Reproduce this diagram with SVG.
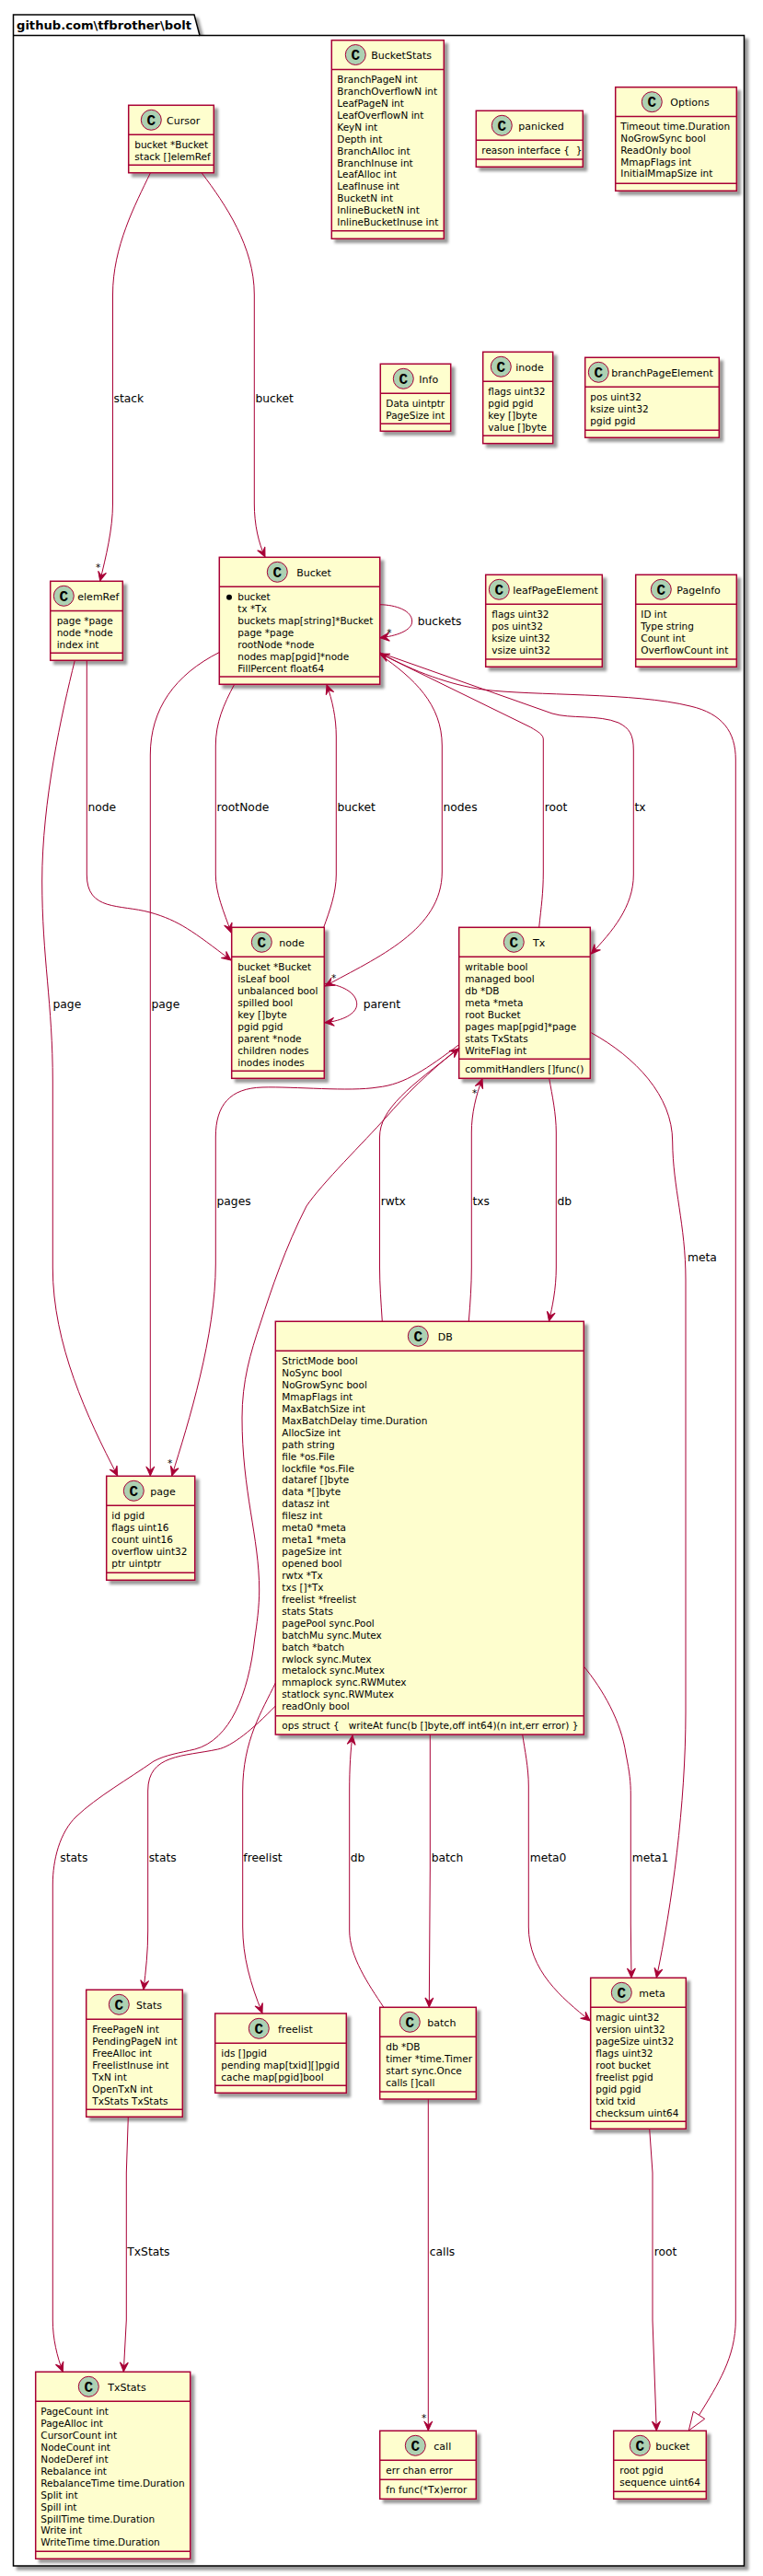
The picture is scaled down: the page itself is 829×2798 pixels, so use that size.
<svg xmlns="http://www.w3.org/2000/svg" width="829" height="2798" viewBox="0 0 829 2798">
<style>
text{font-family:"DejaVu Sans","Liberation Sans",sans-serif;fill:#000}
.a{font-size:10.5px}
.t{font-size:11px}
.e{font-size:12.3px}
.s{font-size:10.5px}
.g{font-family:"Liberation Mono",monospace;font-weight:bold;font-size:16px;text-anchor:middle}
.p{font-size:13px;font-weight:bold}
.b{fill:#FEFECE;stroke:#A80036;stroke-width:1.5;filter:url(#sh)}
.d{stroke:#A80036;stroke-width:1.5;fill:none}
.c{fill:#ADD1B2;stroke:#A80036;stroke-width:1}
.k{fill:none;stroke:#A80036;stroke-width:1}
</style>
<defs>
<filter id="sh" x="-20%" y="-20%" width="140%" height="140%"><feDropShadow dx="4" dy="4" stdDeviation="1.7" flood-color="#000" flood-opacity="0.4"/></filter>
<marker id="ar" markerUnits="userSpaceOnUse" markerWidth="14" markerHeight="12" refX="12" refY="6" orient="auto"><polygon points="12,6 2,1.5 6,6 2,10.5" fill="#A80036" stroke="#A80036"/></marker>
</defs>
<rect width="829" height="2798" fill="#fff"/>
<g id="package">
<path d="M14.5,2787 V16 H211 L217,38.5 H798 V38.5 H808.5 V2787 Z" fill="#fff" stroke="#000" stroke-width="1.5" filter="url(#sh)"/>
<path d="M14.5,38.5 H217" fill="none" stroke="#000" stroke-width="1.5"/>
<text class="p" x="18" y="32" textLength="190" lengthAdjust="spacingAndGlyphs">github.com\tfbrother\bolt</text>
</g>
<g id="node-Cursor">
<rect class="b" x="139.7" y="114.3" width="92.6" height="73.4"/>
<path class="d" d="M139.7,146.3H232.3M139.7,179.3H232.3"/>
<circle class="c" cx="164.3" cy="130.3" r="11"/><text class="g" x="164.3" y="135.6">C</text>
<text class="t" x="181" y="134.5">Cursor</text>
<text class="a" x="146.3" y="160.7">bucket *Bucket</text>
<text class="a" x="146.3" y="173.7">stack []elemRef</text>
</g>
<g id="node-BucketStats">
<rect class="b" x="360.3" y="43.7" width="122" height="215.6"/>
<path class="d" d="M360.3,75.5H482.3M360.3,250.7H482.3"/>
<circle class="c" cx="386.3" cy="59.5" r="11"/><text class="g" x="386.3" y="64.8">C</text>
<text class="t" x="403.3" y="63.7">BucketStats</text>
<text class="a" x="366.3" y="90">BranchPageN int</text>
<text class="a" x="366.3" y="102.9">BranchOverflowN int</text>
<text class="a" x="366.3" y="115.9">LeafPageN int</text>
<text class="a" x="366.3" y="128.8">LeafOverflowN int</text>
<text class="a" x="366.3" y="141.7">KeyN int</text>
<text class="a" x="366.3" y="154.7">Depth int</text>
<text class="a" x="366.3" y="167.6">BranchAlloc int</text>
<text class="a" x="366.3" y="180.5">BranchInuse int</text>
<text class="a" x="366.3" y="193.4">LeafAlloc int</text>
<text class="a" x="366.3" y="206.4">LeafInuse int</text>
<text class="a" x="366.3" y="219.3">BucketN int</text>
<text class="a" x="366.3" y="232.2">InlineBucketN int</text>
<text class="a" x="366.3" y="245.2">InlineBucketInuse int</text>
</g>
<g id="node-panicked">
<rect class="b" x="517.3" y="120.3" width="116" height="61"/>
<path class="d" d="M517.3,152.3H633.3M517.3,173H633.3"/>
<circle class="c" cx="545.3" cy="136.3" r="11"/><text class="g" x="545.3" y="141.6">C</text>
<text class="t" x="563.3" y="140.5">panicked</text>
<text class="a" x="523.3" y="166.7" xml:space="preserve">reason interface {  }</text>
</g>
<g id="node-Options">
<rect class="b" x="668.7" y="94.7" width="131.6" height="112.6"/>
<path class="d" d="M668.7,126.5H800.3M668.7,199.3H800.3"/>
<circle class="c" cx="708.3" cy="110.7" r="11"/><text class="g" x="708.3" y="116">C</text>
<text class="t" x="728.3" y="114.9">Options</text>
<text class="a" x="674.3" y="140.7">Timeout time.Duration</text>
<text class="a" x="674.3" y="153.6">NoGrowSync bool</text>
<text class="a" x="674.3" y="166.6">ReadOnly bool</text>
<text class="a" x="674.3" y="179.5">MmapFlags int</text>
<text class="a" x="674.3" y="192.4">InitialMmapSize int</text>
</g>
<g id="node-Info">
<rect class="b" x="413.3" y="395.3" width="76.4" height="73"/>
<path class="d" d="M413.3,427.3H489.7M413.3,460.3H489.7"/>
<circle class="c" cx="438.3" cy="411.3" r="11"/><text class="g" x="438.3" y="416.6">C</text>
<text class="t" x="455.3" y="415.5">Info</text>
<text class="a" x="419.3" y="441.7">Data uintptr</text>
<text class="a" x="419.3" y="454.7">PageSize int</text>
</g>
<g id="node-inode">
<rect class="b" x="524.7" y="382.3" width="76" height="99.4"/>
<path class="d" d="M524.7,414.3H600.7M524.7,473.3H600.7"/>
<circle class="c" cx="544.3" cy="398.3" r="11"/><text class="g" x="544.3" y="403.6">C</text>
<text class="t" x="560.3" y="402.5">inode</text>
<text class="a" x="530.3" y="428.7">flags uint32</text>
<text class="a" x="530.3" y="441.7">pgid pgid</text>
<text class="a" x="530.3" y="454.7">key []byte</text>
<text class="a" x="530.3" y="467.7">value []byte</text>
</g>
<g id="node-branchPageElement">
<rect class="b" x="635.7" y="388.3" width="145.6" height="87"/>
<path class="d" d="M635.7,420.3H781.3M635.7,467.3H781.3"/>
<circle class="c" cx="650.3" cy="404.3" r="11"/><text class="g" x="650.3" y="409.6">C</text>
<text class="t" x="664.3" y="408.5">branchPageElement</text>
<text class="a" x="641.3" y="435">pos uint32</text>
<text class="a" x="641.3" y="448">ksize uint32</text>
<text class="a" x="641.3" y="461">pgid pgid</text>
</g>
<g id="node-elemRef">
<rect class="b" x="54.7" y="631.3" width="78.6" height="86"/>
<path class="d" d="M54.7,663.5H133.3M54.7,709.3H133.3"/>
<circle class="c" cx="69.3" cy="647.3" r="11"/><text class="g" x="69.3" y="652.6">C</text>
<text class="t" x="84.3" y="651.5">elemRef</text>
<text class="a" x="61.7" y="678.3">page *page</text>
<text class="a" x="61.7" y="691.2">node *node</text>
<text class="a" x="61.7" y="704.2">index int</text>
</g>
<g id="node-Bucket">
<rect class="b" x="238.3" y="605.3" width="174.4" height="138"/>
<path class="d" d="M238.3,637.3H412.7M238.3,735H412.7"/>
<circle class="c" cx="301.3" cy="621.3" r="11"/><text class="g" x="301.3" y="626.6">C</text>
<text class="t" x="322.3" y="625.5">Bucket</text>
<circle cx="249" cy="648.7" r="3" fill="#000"/>
<text class="a" x="258.3" y="652">bucket</text>
<text class="a" x="258.3" y="664.9">tx *Tx</text>
<text class="a" x="258.3" y="677.9">buckets map[string]*Bucket</text>
<text class="a" x="258.3" y="690.8">page *page</text>
<text class="a" x="258.3" y="703.7">rootNode *node</text>
<text class="a" x="258.3" y="716.7">nodes map[pgid]*node</text>
<text class="a" x="258.3" y="729.6">FillPercent float64</text>
</g>
<g id="node-leafPageElement">
<rect class="b" x="527.7" y="624.3" width="126.6" height="100"/>
<path class="d" d="M527.7,656.3H654.3M527.7,716H654.3"/>
<circle class="c" cx="542.3" cy="640.3" r="11"/><text class="g" x="542.3" y="645.6">C</text>
<text class="t" x="557.3" y="644.5">leafPageElement</text>
<text class="a" x="534.3" y="670.7">flags uint32</text>
<text class="a" x="534.3" y="683.7">pos uint32</text>
<text class="a" x="534.3" y="696.7">ksize uint32</text>
<text class="a" x="534.3" y="709.7">vsize uint32</text>
</g>
<g id="node-PageInfo">
<rect class="b" x="690.7" y="624.3" width="109.6" height="100"/>
<path class="d" d="M690.7,656.3H800.3M690.7,716H800.3"/>
<circle class="c" cx="718.3" cy="640.3" r="11"/><text class="g" x="718.3" y="645.6">C</text>
<text class="t" x="735.3" y="644.5">PageInfo</text>
<text class="a" x="696.3" y="670.7">ID int</text>
<text class="a" x="696.3" y="683.7">Type string</text>
<text class="a" x="696.3" y="696.7">Count int</text>
<text class="a" x="696.3" y="709.7">OverflowCount int</text>
</g>
<g id="node-node">
<rect class="b" x="251.7" y="1007.3" width="100.6" height="164"/>
<path class="d" d="M251.7,1039.3H352.3M251.7,1163.3H352.3"/>
<circle class="c" cx="284.3" cy="1023.3" r="11"/><text class="g" x="284.3" y="1028.6">C</text>
<text class="t" x="303.3" y="1027.5">node</text>
<text class="a" x="258.3" y="1054">bucket *Bucket</text>
<text class="a" x="258.3" y="1067">isLeaf bool</text>
<text class="a" x="258.3" y="1080">unbalanced bool</text>
<text class="a" x="258.3" y="1093">spilled bool</text>
<text class="a" x="258.3" y="1105.8">key []byte</text>
<text class="a" x="258.3" y="1118.8">pgid pgid</text>
<text class="a" x="258.3" y="1131.7">parent *node</text>
<text class="a" x="258.3" y="1144.6">children nodes</text>
<text class="a" x="258.3" y="1157.6">inodes inodes</text>
</g>
<g id="node-Tx">
<rect class="b" x="498.7" y="1007.3" width="142.6" height="164"/>
<path class="d" d="M498.7,1039.3H641.3M498.7,1150.3H641.3"/>
<circle class="c" cx="558.3" cy="1023.3" r="11"/><text class="g" x="558.3" y="1028.6">C</text>
<text class="t" x="579" y="1027.5">Tx</text>
<text class="a" x="505.3" y="1054">writable bool</text>
<text class="a" x="505.3" y="1067">managed bool</text>
<text class="a" x="505.3" y="1080">db *DB</text>
<text class="a" x="505.3" y="1093">meta *meta</text>
<text class="a" x="505.3" y="1105.8">root Bucket</text>
<text class="a" x="505.3" y="1118.8">pages map[pgid]*page</text>
<text class="a" x="505.3" y="1131.7">stats TxStats</text>
<text class="a" x="505.3" y="1144.6">WriteFlag int</text>
<text class="a" x="505.3" y="1165">commitHandlers []func()</text>
</g>
<g id="node-page">
<rect class="b" x="115.7" y="1603.3" width="96" height="113"/>
<path class="d" d="M115.7,1635.3H211.7M115.7,1708.3H211.7"/>
<circle class="c" cx="145.3" cy="1619.3" r="11"/><text class="g" x="145.3" y="1624.6">C</text>
<text class="t" x="163.3" y="1623.5">page</text>
<text class="a" x="121.3" y="1650">id pgid</text>
<text class="a" x="121.3" y="1663">flags uint16</text>
<text class="a" x="121.3" y="1676">count uint16</text>
<text class="a" x="121.3" y="1689">overflow uint32</text>
<text class="a" x="121.3" y="1702">ptr uintptr</text>
</g>
<g id="node-DB">
<rect class="b" x="299.3" y="1435.3" width="335" height="448.7"/>
<path class="d" d="M299.3,1467.3H634.3M299.3,1863.7H634.3"/>
<circle class="c" cx="454.3" cy="1451.3" r="11"/><text class="g" x="454.3" y="1456.6">C</text>
<text class="t" x="475.7" y="1455.5">DB</text>
<text class="a" x="306.3" y="1482">StrictMode bool</text>
<text class="a" x="306.3" y="1495">NoSync bool</text>
<text class="a" x="306.3" y="1508">NoGrowSync bool</text>
<text class="a" x="306.3" y="1521">MmapFlags int</text>
<text class="a" x="306.3" y="1533.7">MaxBatchSize int</text>
<text class="a" x="306.3" y="1546.7">MaxBatchDelay time.Duration</text>
<text class="a" x="306.3" y="1559.6">AllocSize int</text>
<text class="a" x="306.3" y="1572.6">path string</text>
<text class="a" x="306.3" y="1585.5">file *os.File</text>
<text class="a" x="306.3" y="1598.5">lockfile *os.File</text>
<text class="a" x="306.3" y="1611.4">dataref []byte</text>
<text class="a" x="306.3" y="1624.4">data *[]byte</text>
<text class="a" x="306.3" y="1637.3">datasz int</text>
<text class="a" x="306.3" y="1650.3">filesz int</text>
<text class="a" x="306.3" y="1663.2">meta0 *meta</text>
<text class="a" x="306.3" y="1676.2">meta1 *meta</text>
<text class="a" x="306.3" y="1689.1">pageSize int</text>
<text class="a" x="306.3" y="1702.1">opened bool</text>
<text class="a" x="306.3" y="1715">rwtx *Tx</text>
<text class="a" x="306.3" y="1728">txs []*Tx</text>
<text class="a" x="306.3" y="1741">freelist *freelist</text>
<text class="a" x="306.3" y="1754">stats Stats</text>
<text class="a" x="306.3" y="1767">pagePool sync.Pool</text>
<text class="a" x="306.3" y="1780">batchMu sync.Mutex</text>
<text class="a" x="306.3" y="1793">batch *batch</text>
<text class="a" x="306.3" y="1806">rwlock sync.Mutex</text>
<text class="a" x="306.3" y="1818">metalock sync.Mutex</text>
<text class="a" x="306.3" y="1831">mmaplock sync.RWMutex</text>
<text class="a" x="306.3" y="1844">statlock sync.RWMutex</text>
<text class="a" x="306.3" y="1857">readOnly bool</text>
<text class="a" x="306.3" y="1878" xml:space="preserve">ops struct {   writeAt func(b []byte,off int64)(n int,err error) }</text>
</g>
<g id="node-Stats">
<rect class="b" x="93.7" y="2161.3" width="104.6" height="138"/>
<path class="d" d="M93.7,2193.3H198.3M93.7,2291.3H198.3"/>
<circle class="c" cx="129.3" cy="2177.3" r="11"/><text class="g" x="129.3" y="2182.6">C</text>
<text class="t" x="148" y="2181.5">Stats</text>
<text class="a" x="100.3" y="2208">FreePageN int</text>
<text class="a" x="100.3" y="2221">PendingPageN int</text>
<text class="a" x="100.3" y="2234">FreeAlloc int</text>
<text class="a" x="100.3" y="2247">FreelistInuse int</text>
<text class="a" x="100.3" y="2259.7">TxN int</text>
<text class="a" x="100.3" y="2272.7">OpenTxN int</text>
<text class="a" x="100.3" y="2285.6">TxStats TxStats</text>
</g>
<g id="node-freelist">
<rect class="b" x="233.7" y="2187" width="142.6" height="86.3"/>
<path class="d" d="M233.7,2219.3H376.3M233.7,2265.3H376.3"/>
<circle class="c" cx="281.3" cy="2203.3" r="11"/><text class="g" x="281.3" y="2208.6">C</text>
<text class="t" x="302" y="2207.5">freelist</text>
<text class="a" x="240.3" y="2234">ids []pgid</text>
<text class="a" x="240.3" y="2247">pending map[txid][]pgid</text>
<text class="a" x="240.3" y="2260">cache map[pgid]bool</text>
</g>
<g id="node-batch">
<rect class="b" x="412.7" y="2180.3" width="104.6" height="99.7"/>
<path class="d" d="M412.7,2212.3H517.3M412.7,2272H517.3"/>
<circle class="c" cx="445.3" cy="2196.3" r="11"/><text class="g" x="445.3" y="2201.6">C</text>
<text class="t" x="464.3" y="2200.5">batch</text>
<text class="a" x="419.3" y="2226.7">db *DB</text>
<text class="a" x="419.3" y="2239.7">timer *time.Timer</text>
<text class="a" x="419.3" y="2252.7">start sync.Once</text>
<text class="a" x="419.3" y="2265.7">calls []call</text>
</g>
<g id="node-meta">
<rect class="b" x="641.7" y="2148.3" width="103.6" height="164"/>
<path class="d" d="M641.7,2180.3H745.3M641.7,2304.3H745.3"/>
<circle class="c" cx="675.3" cy="2164.3" r="11"/><text class="g" x="675.3" y="2169.6">C</text>
<text class="t" x="694.3" y="2168.5">meta</text>
<text class="a" x="647.3" y="2195">magic uint32</text>
<text class="a" x="647.3" y="2208">version uint32</text>
<text class="a" x="647.3" y="2221">pageSize uint32</text>
<text class="a" x="647.3" y="2234">flags uint32</text>
<text class="a" x="647.3" y="2246.7">root bucket</text>
<text class="a" x="647.3" y="2259.7">freelist pgid</text>
<text class="a" x="647.3" y="2272.6">pgid pgid</text>
<text class="a" x="647.3" y="2285.5">txid txid</text>
<text class="a" x="647.3" y="2298.5">checksum uint64</text>
</g>
<g id="node-TxStats">
<rect class="b" x="38.7" y="2576.3" width="168" height="203"/>
<path class="d" d="M38.7,2608.3H206.7M38.7,2771.3H206.7"/>
<circle class="c" cx="96.3" cy="2592.3" r="11"/><text class="g" x="96.3" y="2597.6">C</text>
<text class="t" x="117.3" y="2596.5">TxStats</text>
<text class="a" x="44.3" y="2623">PageCount int</text>
<text class="a" x="44.3" y="2636">PageAlloc int</text>
<text class="a" x="44.3" y="2649">CursorCount int</text>
<text class="a" x="44.3" y="2662">NodeCount int</text>
<text class="a" x="44.3" y="2674.7">NodeDeref int</text>
<text class="a" x="44.3" y="2687.7">Rebalance int</text>
<text class="a" x="44.3" y="2700.6">RebalanceTime time.Duration</text>
<text class="a" x="44.3" y="2713.6">Split int</text>
<text class="a" x="44.3" y="2726.5">Spill int</text>
<text class="a" x="44.3" y="2739.5">SpillTime time.Duration</text>
<text class="a" x="44.3" y="2752.4">Write int</text>
<text class="a" x="44.3" y="2765.4">WriteTime time.Duration</text>
</g>
<g id="node-call">
<rect class="b" x="412.7" y="2640.3" width="104.6" height="74"/>
<path class="d" d="M412.7,2672.3H517.3M412.7,2693.3H517.3"/>
<circle class="c" cx="451.3" cy="2656.3" r="11"/><text class="g" x="451.3" y="2661.6">C</text>
<text class="t" x="471.3" y="2660.5">call</text>
<text class="a" x="419.3" y="2687">err chan error</text>
<text class="a" x="419.3" y="2708">fn func(*Tx)error</text>
</g>
<g id="node-bucket">
<rect class="b" x="666.7" y="2640.3" width="100.6" height="74"/>
<path class="d" d="M666.7,2672.3H767.3M666.7,2706.3H767.3"/>
<circle class="c" cx="695.3" cy="2656.3" r="11"/><text class="g" x="695.3" y="2661.6">C</text>
<text class="t" x="712.3" y="2660.5">bucket</text>
<text class="a" x="673.3" y="2687">root pgid</text>
<text class="a" x="673.3" y="2700">sequence uint64</text>
</g>
<g id="connectors">
<path class="k" marker-end="url(#ar)" d="M163.3,188 C147,222 122.5,268 122.5,320 L122.5,547 C122.5,575 115,605 108.7,631"/>
<path class="k" marker-end="url(#ar)" d="M219.3,188 C245,222 276.3,268 276.3,320 L276.3,547 C276.3,570 281,590 288,605"/>
<path class="k" marker-end="url(#ar)" d="M81.3,717.3 C67,775 45.7,870 45.7,957 C45.7,1040 57.3,1090 57.3,1175 L57.3,1377 C57.3,1460 95,1540 127.7,1603"/>
<path class="k" marker-end="url(#ar)" d="M94.3,717.3 L94.3,950 C94.3,990 130,982 163,991 C195,1000 210,1012 251,1043"/>
<path class="k" marker-end="url(#ar)" d="M238,708.7 C190,733 163.3,770 163.3,820 L163.3,1603"/>
<path class="k" marker-end="url(#ar)" d="M254.7,743.3 C243,765 234.3,785 234.3,810 L234.3,950 C234.3,970 243,990 251.2,1013"/>
<path class="k" marker-end="url(#ar)" d="M351.7,1007.3 C358,990 365.3,970 365.3,950 L365.3,800 C365.3,780 361,760 355,743.8"/>
<path class="k" marker-end="url(#ar)" d="M412.7,656.7 C430,657 447.7,663 447.7,675 C447.7,685 430,691 413,692.7"/>
<path class="k" marker-end="url(#ar)" d="M412.7,711 C450,737 480.3,765 480.3,810 L480.3,947 C480.3,1010 410,1040 353.3,1071"/>
<path class="k" marker-end="url(#ar)" d="M585.7,1007.3 C588,985 590.3,970 590.3,947 L590.3,803 C590.3,798 585,795 576.7,790 L413,710"/>
<path class="k" marker-end="url(#ar)" d="M413,709 L600,775 C620,781 650,776 672,785 C684,791 688.3,798 688.3,815 L688.3,950 C688.3,985 665,1012 642.3,1036"/>
<path class="k" d="M413,709 C450,730 490,744 525,749 C580,756 690,752 750,767 C785,775 799.3,795 799.3,825 L799.3,2520 C799.3,2560 780,2590 759.5,2623.3"/>
<polygon points="748.3,2640 753.3,2619.3 765.7,2627.3" fill="#fff" stroke="#A80036" stroke-width="1"/>
<path class="k" marker-end="url(#ar)" d="M498.3,1135 C465,1160 440,1178 410,1181 C380,1186 320,1180 285,1181 C250,1182 234.3,1200 234.3,1235 L234.3,1373 C234.3,1450 205,1545 186.7,1603"/>
<path class="k" marker-end="url(#ar)" d="M415.3,1435.3 C414,1415 412.5,1395 412.5,1377 L412.5,1235 C412.5,1205 445,1180 498.7,1139"/>
<path class="k" d="M498.7,1138 C465,1165 440,1190 420,1213 C395,1241 350,1285 333,1310 C310,1355 295,1400 283,1437 C272,1470 263,1500 263,1540 C263,1620 281.7,1670 281.7,1727 C281.7,1745 279,1765 276.7,1780 C270,1840 250,1890 211.7,1900 C195,1904 180,1906 167,1913 C140,1932 105,1952 83,1973 C65,1990 57.3,2020 57.3,2047 L57.3,2520 C57.3,2540 62,2560 68.3,2576" marker-end="url(#ar)"/>
<path class="k" marker-end="url(#ar)" d="M509.3,1435.3 C511,1415 512.3,1395 512.3,1377 L512.3,1230 C512.3,1210 517,1190 524,1171.8"/>
<path class="k" marker-end="url(#ar)" d="M596.7,1171.3 C600,1190 604.3,1210 604.3,1230 L604.3,1377 C604.3,1400 600,1420 596.5,1435"/>
<path class="k" marker-end="url(#ar)" d="M642.3,1121.7 C690,1148 730.7,1190 730.7,1240 C731,1290 745,1330 745,1390 L745,1860 C745,1960 730,2070 713.3,2148"/>
<path class="k" marker-end="url(#ar)" d="M634.3,1810 C655,1835 675,1870 680,1905 C684,1925 685.3,1935 685.3,1950 L685.3,2090 L686,2148"/>
<path class="k" marker-end="url(#ar)" d="M567.7,1884 C570,1900 574.3,1920 574.3,1940 L574.3,2093 C574.3,2140 610,2170 641.2,2195"/>
<path class="k" marker-end="url(#ar)" d="M467.3,1884 L467.3,2030 L466.3,2180"/>
<path class="k" marker-end="url(#ar)" d="M416.7,2180 C400,2155 379.7,2125 379.7,2097 L379.7,1945 C379.7,1920 381,1900 383,1885"/>
<path class="k" marker-end="url(#ar)" d="M299.3,1828 C285,1858 263.7,1890 263.7,1945 L263.7,2093 C263.7,2125 272,2155 285,2186.5"/>
<path class="k" marker-end="url(#ar)" d="M299.3,1853 C275,1878 252,1897 236.7,1900 C200,1908 160.7,1905 160.7,1945 L160.7,2097 C160.7,2120 158.5,2140 156,2161"/>
<path class="k" marker-end="url(#ar)" d="M139.3,2299.3 L137.3,2360 L137.3,2520 L134.3,2576"/>
<path class="k" marker-end="url(#ar)" d="M465.3,2280 L465.3,2640"/>
<path class="k" marker-end="url(#ar)" d="M705.7,2312.3 L709,2360 L709,2520 L713.3,2640"/>
<path class="k" marker-end="url(#ar)" d="M352.3,1068.3 C370,1069 387.7,1078 387.7,1090.7 C387.7,1101 372,1109 353,1110.7"/>
<text class="e" x="123.5" y="436.7">stack</text>
<text class="s" x="104" y="620">*</text>
<text class="e" x="277.5" y="436.7">bucket</text>
<text class="e" x="453.7" y="679.3">buckets</text>
<text class="s" x="420.3" y="691">*</text>
<text class="e" x="95.5" y="880.7">node</text>
<text class="e" x="235.5" y="880.7">rootNode</text>
<text class="e" x="366.5" y="880.7">bucket</text>
<text class="e" x="481.5" y="880.7">nodes</text>
<text class="e" x="591.7" y="880.7">root</text>
<text class="e" x="689.5" y="880.7">tx</text>
<text class="e" x="57.5" y="1095">page</text>
<text class="e" x="164.5" y="1095">page</text>
<text class="e" x="394.7" y="1095">parent</text>
<text class="s" x="360" y="1066">*</text>
<text class="e" x="235.5" y="1309">pages</text>
<text class="s" x="182" y="1593">*</text>
<text class="e" x="413.7" y="1309">rwtx</text>
<text class="e" x="513.5" y="1309">txs</text>
<text class="s" x="513" y="1191">*</text>
<text class="e" x="605.5" y="1309">db</text>
<text class="e" x="747" y="1370">meta</text>
<text class="e" x="65.3" y="2021.7">stats</text>
<text class="e" x="161.7" y="2021.7">stats</text>
<text class="e" x="264.3" y="2021.7">freelist</text>
<text class="e" x="380.7" y="2021.7">db</text>
<text class="e" x="468.7" y="2021.7">batch</text>
<text class="e" x="575.7" y="2021.7">meta0</text>
<text class="e" x="686.7" y="2021.7">meta1</text>
<text class="e" x="138.3" y="2450">TxStats</text>
<text class="e" x="466.7" y="2450">calls</text>
<text class="s" x="458" y="2630">*</text>
<text class="e" x="710.7" y="2450">root</text>
</g>
</svg>
